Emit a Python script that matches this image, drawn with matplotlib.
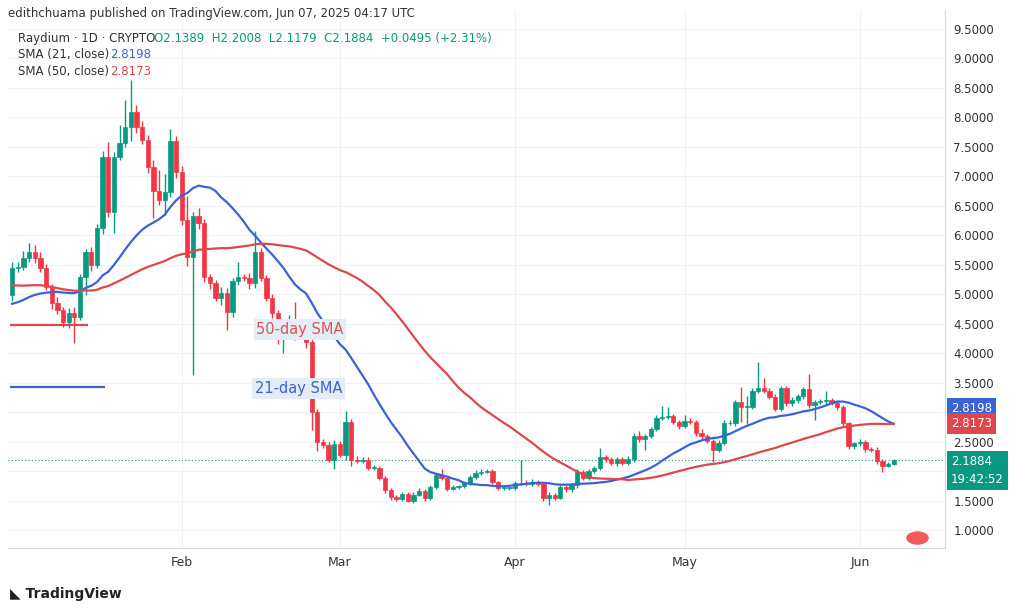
import matplotlib
matplotlib.use("Agg")
import matplotlib.pyplot as plt
import numpy as np
import pandas as pd
from matplotlib.patches import Rectangle, Circle

# estimated closes before the visible window (Dec 2024), used only for the SMAs
pre_closes = [5.60,5.70,5.55,5.40,5.50,5.65,5.80,5.70,5.50,5.35,
              5.20,5.30,5.45,5.60,5.50,5.35,5.20,5.10,5.25,5.40,
              5.55,5.45,5.30,5.15,5.05,4.95,5.10,5.20,5.05,4.90,
              4.80,4.70,4.85,4.95,4.80,4.70,4.60,4.75,4.85,4.70,
              4.60,4.55,4.70,4.85,4.95,5.05,4.95,4.90,4.99]
first_open = 4.99
closes = [5.44,5.46,5.61,5.72,5.61,5.44,5.12,4.85,4.73,4.53,
          4.68,4.62,5.29,5.72,5.50,6.12,7.33,6.39,7.33,7.57,
          7.84,8.09,7.84,7.62,7.16,6.75,6.60,6.73,7.60,7.07,
          6.26,5.63,6.32,6.20,5.29,5.19,4.94,5.02,4.70,5.22,
          5.29,5.28,5.19,5.72,5.28,4.94,4.68,4.26,4.30,4.56,
          4.31,4.40,4.19,
          3.00,2.49,2.44,2.19,2.46,2.27,2.83,2.19,2.17,2.19,
          2.05,2.05,1.88,1.68,1.56,1.53,1.61,1.50,1.60,1.66,
          1.54,1.73,1.93,1.88,1.70,1.73,1.74,1.80,1.90,1.96,
          1.99,2.00,1.81,1.71,1.71,1.71,1.79,1.80,1.78,1.81,
          1.78,1.54,1.60,1.55,1.73,1.70,
          1.76,1.98,1.88,2.00,2.05,2.24,2.20,2.14,2.20,2.14,
          2.20,2.60,2.55,2.60,2.71,2.90,2.92,2.93,2.84,2.77,
          2.85,2.83,2.65,2.59,2.51,2.36,2.48,2.81,2.82,3.17,
          3.09,3.09,3.36,3.40,3.36,3.26,3.06,3.40,3.15,3.20,
          3.27,3.39,3.12,3.17,3.18,3.20,3.16,3.09,2.81,2.42,
          2.47,2.50,2.38,2.36,2.17,2.09,2.12,2.1884]
upper_wick = [0.10,0.08,0.12,0.15,0.12,0.10,0.08,0.06,0.10,0.05,
              0.08,0.10,0.06,0.05,0.08,0.07,0.10,0.25,0.08,0.30,
              0.45,0.55,0.12,0.10,0.08,0.12,0.35,0.30,0.20,0.08,
              0.10,0.40,0.08,0.15,0.08,0.06,0.05,0.10,0.08,0.06,
              0.25,0.06,0.08,0.35,0.07,0.05,0.06,0.05,0.18,0.08,
              0.30,0.10,0.05,
              0.05,0.06,0.05,0.05,0.06,0.05,0.18,0.05,0.06,0.04,
              0.05,0.05,0.04,0.03,0.03,0.03,0.04,0.03,0.04,0.05,
              0.04,0.04,0.03,0.10,0.03,0.03,0.02,0.03,0.03,0.05,
              0.04,0.03,0.03,0.02,0.02,0.02,0.04,0.38,0.05,0.05,
              0.04,0.02,0.04,0.02,0.03,0.03,
              0.04,0.05,0.04,0.03,0.04,0.15,0.04,0.04,0.03,0.04,
              0.05,0.05,0.08,0.03,0.04,0.05,0.18,0.15,0.04,0.03,
              0.10,0.05,0.04,0.06,0.04,0.03,0.04,0.06,0.04,0.03,
              0.25,0.18,0.05,0.45,0.18,0.05,0.04,0.04,0.05,0.05,
              0.04,0.04,0.25,0.03,0.05,0.15,0.04,0.03,0.03,0.03,
              0.03,0.05,0.03,0.03,0.05,0.03,0.03,0.01]
lower_wick = [0.10,0.06,0.05,0.06,0.08,0.06,0.05,0.10,0.07,0.08,
              0.10,0.45,0.05,0.30,0.10,0.05,0.10,0.08,0.35,0.05,
              0.08,0.25,0.10,0.08,0.10,0.45,0.08,0.25,0.08,0.10,
              0.08,0.15,2.00,0.10,0.08,0.10,0.05,0.12,0.30,0.08,
              0.06,0.05,0.10,0.08,0.06,0.05,0.08,0.10,0.25,0.05,
              0.08,0.05,0.10,
              0.30,0.15,0.05,0.04,0.15,0.04,0.08,0.10,0.04,0.04,
              0.04,0.03,0.04,0.05,0.05,0.03,0.04,0.03,0.04,0.03,
              0.04,0.03,0.03,0.04,0.04,0.03,0.03,0.03,0.03,0.03,
              0.03,0.03,0.03,0.03,0.03,0.03,0.03,0.03,0.03,0.03,
              0.03,0.05,0.12,0.04,0.03,0.05,
              0.05,0.04,0.04,0.03,0.03,0.04,0.04,0.04,0.05,0.03,
              0.04,0.04,0.05,0.20,0.04,0.03,0.03,0.04,0.04,0.05,
              0.04,0.04,0.05,0.04,0.04,0.20,0.04,0.04,0.03,0.05,
              0.25,0.30,0.04,0.04,0.04,0.04,0.05,0.04,0.05,0.04,
              0.04,0.04,0.05,0.25,0.04,0.04,0.04,0.05,0.05,0.05,
              0.04,0.04,0.05,0.04,0.05,0.10,0.03,0.02]
dates = pd.date_range("2025-01-02", periods=len(closes), freq="D")
month_ticks = ["Feb", "Mar", "Apr", "May", "Jun"]
month_dates = ["2025-02-01", "2025-03-01", "2025-04-01", "2025-05-01", "2025-06-01"]
price_ticks = [1.0,1.5,2.0,2.5,3.0,3.5,4.0,4.5,5.0,5.5,6.0,6.5,7.0,7.5,8.0,8.5,9.0,9.5]
hidden_ticks = [2.0, 3.0]
sma21_last = 2.8198
sma50_last = 2.8173
countdown = "19:42:52"

GREEN = "#089981"; RED = "#f23645"; BLUE = "#3b63d8"; SRED = "#e0474c"

c = np.array(closes)
o = np.concatenate([[first_open], c[:-1]])
h = np.maximum(o, c) + np.array(upper_wick)
l = np.minimum(o, c) - np.array(lower_wick)
s = pd.Series(pre_closes + closes)
n0 = len(pre_closes)
sma21 = s.rolling(21).mean().values[n0:]
sma50 = s.rolling(50, min_periods=1).mean().values[n0:]
x = np.arange(len(c))

fig = plt.figure(figsize=(10.24, 6.10), dpi=100)
ax = fig.add_axes([0.008, 0.1016, 0.915, 0.882])
ax.set_xlim(-0.7, 165.1)
ax.set_ylim(0.694, 9.82)

for i in range(len(c)):
    col = GREEN if c[i] >= o[i] else RED
    ax.vlines(x[i], l[i], h[i], color=col, lw=1, zorder=3)
    bot = min(o[i], c[i]); ht = max(abs(c[i]-o[i]), 0.012)
    ax.add_patch(Rectangle((x[i]-0.38, bot), 0.76, ht, facecolor=col, edgecolor=col, lw=0.5, zorder=4))

ax.plot(x, sma21, color=BLUE, lw=1.6, zorder=5)
ax.plot(x, sma50, color=SRED, lw=1.6, zorder=5)

ax.hlines(4.48, -0.4, 13.5, color=SRED, lw=1.6)
ax.hlines(3.43, -0.4, 16.5, color=BLUE, lw=1.6)
ax.text(43.2, 4.4, "50-day SMA", color="#d9545a", fontsize=10.5, va="center",
        bbox=dict(facecolor="#e4ecf5", edgecolor="none", pad=2), zorder=6)
ax.text(43.0, 3.4, "21-day SMA", color="#3b63d8", fontsize=10.5, va="center",
        bbox=dict(facecolor="#e4ecf5", edgecolor="none", pad=2), zorder=6)

ax.axhline(c[-1], color="#2a8a7a", lw=0.8, ls=(0, (1, 2)), zorder=2)

mpos = [(pd.Timestamp(d) - dates[0]).days for d in month_dates]
ax.set_xticks(mpos)
ax.set_xticklabels(month_ticks, fontsize=9, color="#333")
ax.set_yticks(price_ticks)
ax.set_yticklabels(["" if v in hidden_ticks else f"{v:.4f}" for v in price_ticks], fontsize=8.5, color="#333")
ax.yaxis.tick_right()
ax.tick_params(length=0, pad=6)
ax.grid(True, color="#f0f1f4", lw=0.8)
ax.set_axisbelow(True)
for sp in ["top", "left"]:
    ax.spines[sp].set_visible(False)
for sp in ["right", "bottom"]:
    ax.spines[sp].set_color("#d8d8d8")

def tag(txt, y, col, va="center"):
    ax.text(1.006, y, txt, transform=ax.get_yaxis_transform(), color="white",
            fontsize=8.5, va=va, ha="left", linespacing=1.5,
            bbox=dict(facecolor=col, edgecolor="none", boxstyle="square,pad=0.35"), zorder=10, clip_on=False)
tag(f"{sma21_last:.4f}", 3.06, BLUE)
tag(f"{sma50_last:.4f}", 2.81, SRED)
tag(f"{c[-1]:.4f}\n{countdown}", 2.27, GREEN, va="top")

fig.text(0.008, 0.978, "edithchuama published on TradingView.com, Jun 07, 2025 04:17 UTC", fontsize=8.5, color="#333", va="center")
fig.text(0.018, 0.937, "Raydium · 1D · CRYPTO", fontsize=8.5, color="#333", va="center")
fig.text(0.150, 0.937, "O2.1389  H2.2008  L2.1179  C2.1884  +0.0495 (+2.31%)", fontsize=8.5, color=GREEN, va="center")
fig.text(0.018, 0.910, "SMA (21, close)", fontsize=8.5, color="#333", va="center")
fig.text(0.108, 0.910, "2.8198", fontsize=8.5, color=BLUE, va="center")
fig.text(0.018, 0.883, "SMA (50, close)", fontsize=8.5, color="#333", va="center")
fig.text(0.108, 0.883, "2.8173", fontsize=8.5, color=SRED, va="center")
fig.text(0.01, 0.027, "\u25E3 TradingView", fontsize=10, color="#222", va="center", fontweight="bold")
fig.add_artist(Circle((0.896, 0.118), 0.011, transform=fig.transFigure, facecolor="#f05a5a", edgecolor="none"))

fig.savefig("out.png", dpi=100)
